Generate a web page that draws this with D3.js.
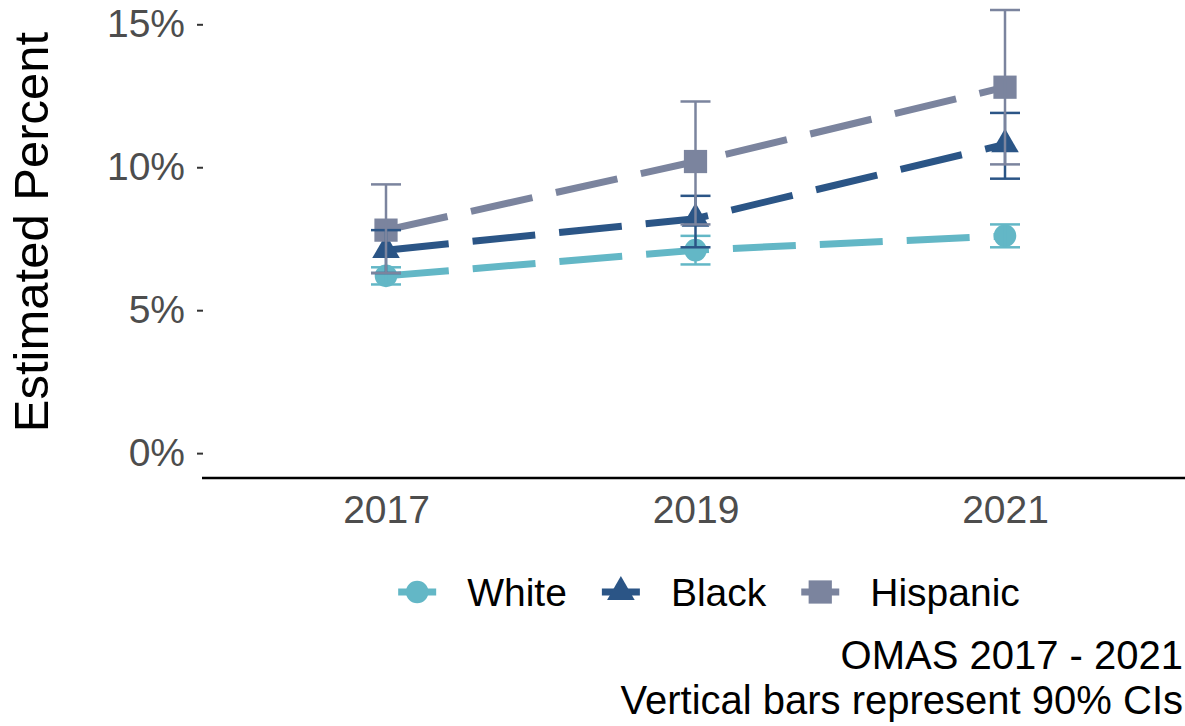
<!DOCTYPE html>
<html>
<head>
<meta charset="utf-8">
<script src="https://cdn.jsdelivr.net/npm/d3@7"></script>
<style>
  body { margin: 0; background: #fff; }
  text { font-family: "Liberation Sans", Arial, sans-serif; }
</style>
</head>
<body>
<div id="chart"></div>
<script>
// data (percent)
let years = ["2017", "2019", "2021"];
let groups = ["White", "Black", "Hispanic"];
let estWhite = [6.2, 7.1, 7.6];
let loWhite = [5.9, 6.6, 7.2];
let hiWhite = [6.5, 7.6, 8.0];
let estBlack = [7.1, 8.2, 10.8];
let loBlack = [6.3, 7.2, 9.6];
let hiBlack = [7.8, 9.0, 11.9];
let estHisp = [7.8, 10.2, 12.8];
let loHisp = [6.3, 8.0, 10.1];
let hiHisp = [9.4, 12.3, 15.5];
let yTicks = [0, 5, 10, 15];
let captionLines = ["OMAS 2017 - 2021", "Vertical bars represent 90% CIs"];

let colors = { White: "#63b7c6", Black: "#2b5586", Hispanic: "#7b849e" };
let shapes = { White: d3.symbolCircle, Black: d3.symbolTriangle, Hispanic: d3.symbolSquare };
let shapeSize = { White: 400, Black: 330, Hispanic: 540 };

let series = [
    { name: "White", est: estWhite, lo: loWhite, hi: hiWhite },
    { name: "Black", est: estBlack, lo: loBlack, hi: hiBlack },
    { name: "Hispanic", est: estHisp, lo: loHisp, hi: hiHisp }
].map(s => ({
    name: s.name,
    values: years.map((yr, i) => ({ year: yr, est: s.est[i], lo: s.lo[i], hi: s.hi[i] }))
}));

let W = 1185, H = 726;
let panel = { left: 203, right: 1185, top: 0, bottom: 478 };

let svg = d3.select("#chart").append("svg")
    .attr("width", W)
    .attr("height", H);

let x = d3.scalePoint()
    .domain(years)
    .range([386, 1005]);

let y = d3.scaleLinear()
    .domain([-0.87, 15.85])
    .range([panel.bottom, panel.top]);

// y axis (ticks + labels only)
let yAxis = svg.append("g")
    .attr("transform", `translate(${panel.left},0)`)
    .call(d3.axisLeft(y).tickValues(yTicks).tickFormat(d => d + "%").tickSize(6).tickPadding(12));
yAxis.select(".domain").remove();
yAxis.selectAll(".tick line").attr("stroke", "#333").attr("stroke-width", 2);
yAxis.selectAll("text").style("font-size", "39px").attr("fill", "#4d4d4d");

// x axis
let xAxis = svg.append("g")
    .attr("transform", `translate(0,${panel.bottom})`)
    .call(d3.axisBottom(x).tickSize(0).tickPadding(17));
xAxis.select(".domain").remove();
xAxis.selectAll("text").style("font-size", "39px").attr("fill", "#4d4d4d");

svg.append("line")
    .attr("x1", panel.left - 1).attr("x2", panel.right)
    .attr("y1", panel.bottom).attr("y2", panel.bottom)
    .attr("stroke", "#000").attr("stroke-width", 2.5);

// axis title
svg.append("text")
    .attr("transform", "translate(48,232) rotate(-90)")
    .attr("text-anchor", "middle")
    .style("font-size", "49px")
    .attr("fill", "#000")
    .text("Estimated Percent");

// dashed lines
let line = d3.line()
    .x(d => x(d.year))
    .y(d => y(d.est));

svg.selectAll("path.series")
    .data(series)
    .enter().append("path")
    .attr("class", "series")
    .attr("d", d => line(d.values))
    .attr("fill", "none")
    .attr("stroke", d => colors[d.name])
    .attr("stroke-width", 7)
    .attr("stroke-dasharray", "63,24");

// points
series.forEach(s => {
    svg.selectAll(null)
        .data(s.values)
        .enter().append("path")
        .attr("d", d3.symbol().type(shapes[s.name]).size(shapeSize[s.name]))
        .attr("transform", d => `translate(${x(d.year)},${y(d.est)})`)
        .attr("fill", colors[s.name]);
});

// error bars
let capHalf = 15;
series.forEach(s => {
    let g = svg.append("g")
        .attr("stroke", colors[s.name])
        .attr("stroke-width", 2.5)
        .attr("fill", "none");
    s.values.forEach(d => {
        let cx = x(d.year);
        g.append("line").attr("x1", cx).attr("x2", cx).attr("y1", y(d.lo)).attr("y2", y(d.hi));
        g.append("line").attr("x1", cx - capHalf).attr("x2", cx + capHalf).attr("y1", y(d.lo)).attr("y2", y(d.lo));
        g.append("line").attr("x1", cx - capHalf).attr("x2", cx + capHalf).attr("y1", y(d.hi)).attr("y2", y(d.hi));
    });
});

// legend
let legendY = 592;
let legend = svg.append("g");
let cursor = 0;
let keyHalf = 19, keyGap = 31, itemGap = 35;
let items = [];
groups.forEach(name => {
    let item = legend.append("g");
    item.append("line")
        .attr("x1", -keyHalf).attr("x2", keyHalf)
        .attr("stroke", colors[name])
        .attr("stroke-width", 7);
    item.append("path")
        .attr("d", d3.symbol().type(shapes[name]).size(shapeSize[name]))
        .attr("fill", colors[name]);
    let t = item.append("text")
        .attr("x", keyHalf + keyGap)
        .attr("dy", "0.36em")
        .style("font-size", "39px")
        .attr("fill", "#000")
        .text(name);
    let w = keyHalf * 2 + keyGap + t.node().getComputedTextLength();
    items.push({ item, start: cursor });
    cursor += w + itemGap;
});
let totalW = cursor - itemGap;
let legendX0 = 709 - totalW / 2;
items.forEach(d => d.item.attr("transform", `translate(${legendX0 + d.start + keyHalf},${legendY})`));

// caption
svg.selectAll("text.caption")
    .data(captionLines)
    .enter().append("text")
    .attr("class", "caption")
    .attr("x", 1183)
    .attr("y", (d, i) => 669 + i * 45)
    .attr("text-anchor", "end")
    .style("font-size", "40px")
    .attr("fill", "#000")
    .text(d => d);
</script>
</body>
</html>
